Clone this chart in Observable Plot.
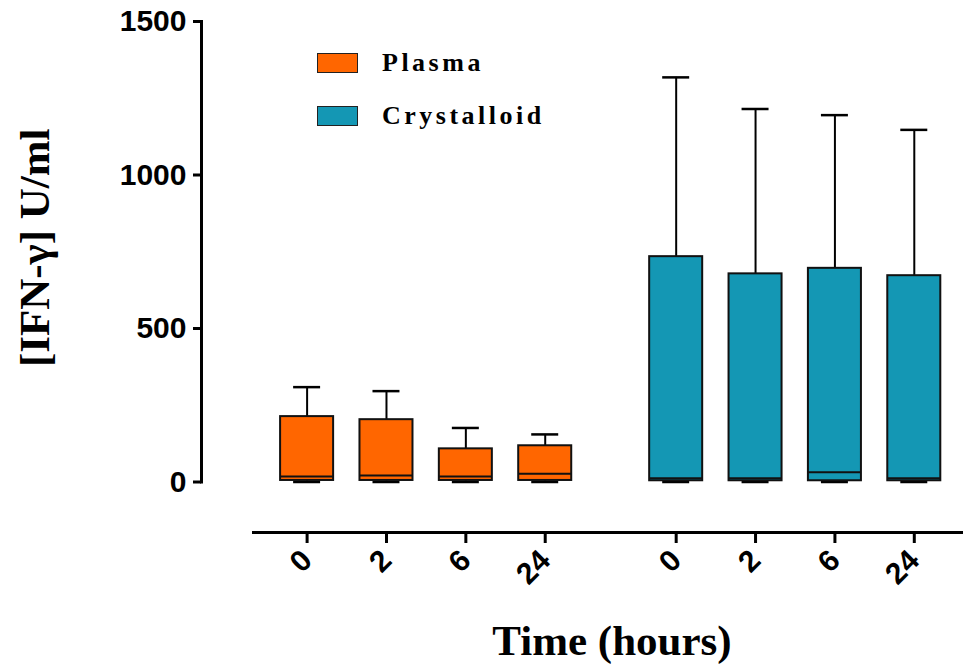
<!DOCTYPE html>
<html>
<head>
<meta charset="utf-8">
<script src="https://cdn.jsdelivr.net/npm/d3@7"></script>
<script src="https://cdn.jsdelivr.net/npm/@observablehq/plot@0.6"></script>
<style>
  html, body { margin: 0; padding: 0; background: #fff; }
  #wrap { position: relative; width: 963px; height: 669px; overflow: hidden; }
  #wrap svg { position: absolute; left: 0; top: 0; }
  .legend { position: absolute; left: 317px; top: 52px; font-family: "Liberation Serif", "Times New Roman", serif; font-weight: bold; font-size: 26px; letter-spacing: 3.5px; color: #000; }
  .legend .row { display: flex; align-items: center; height: 21px; margin-bottom: 32px; }
  .legend .sw { width: 39px; height: 18px; border: 1.5px solid #222; margin-right: 24px; }
</style>
</head>
<body>
<div id="wrap"></div>
<script>
// ---- data ----
const groups = ["Plasma", "Crystalloid"];
const groupColors = ["#FF6600", "#1497B4"];
const times = ["0", "2", "6", "24"];
const yTicks = [0, 500, 1000, 1500];

const plasmaMin    = [0, 0, 0, 0];
const plasmaQ1     = [5, 5, 5, 5];
const plasmaMedian = [18, 21, 18, 27];
const plasmaQ3     = [213, 203, 108, 118];
const plasmaMax    = [309, 296, 176, 155];

const crystMin    = [0, 0, 0, 0];
const crystQ1     = [4, 4, 4, 4];
const crystMedian = [12, 12, 32, 12];
const crystQ3     = [734, 678, 696, 672];
const crystMax    = [1318, 1215, 1195, 1147];

const xLabel = "Time (hours)";
const yLabel = "[IFN-\u03B3] U/ml";

// ---- layout constants ----
const groupOffset = 4.65;   // slot offset of second group (gap between groups)
const halfBox = 0.334;      // half box width in slot units
const halfCap = 0.17;       // half whisker-cap width in slot units
const xDomain = [-0.688, 8.27];

const stats = [
  [plasmaMin, plasmaQ1, plasmaMedian, plasmaQ3, plasmaMax],
  [crystMin, crystQ1, crystMedian, crystQ3, crystMax]
];
const rows = [];
groups.forEach((g, gi) => {
  times.forEach((t, ti) => {
    const [mn, q1, md, q3, mx] = stats[gi].map(a => a[ti]);
    rows.push({group: g, time: t, pos: ti + gi * groupOffset, min: mn, q1, median: md, q3, max: mx});
  });
});
const tickPos = rows.map(d => d.pos);
const tickLab = new Map(rows.map(d => [d.pos, d.time]));

const sansBold = {fontFamily: "Liberation Sans, Arial, sans-serif", fontWeight: "bold"};
const serifBold = "Liberation Serif, Times New Roman, serif";

const plot = Plot.plot({
  width: 963,
  height: 669,
  marginTop: 21,
  marginBottom: 187.5,
  marginLeft: 201,
  marginRight: 0,
  style: {fontFamily: "Liberation Sans, Arial, sans-serif", background: "transparent"},
  x: {type: "linear", domain: xDomain, range: [252, 963]},
  y: {domain: [0, 1500]},
  color: {domain: groups, range: groupColors},
  marks: [
    // y axis line
    Plot.frame({anchor: "left", strokeWidth: 3, stroke: "#000"}),
    Plot.axisY({ticks: yTicks, tickSize: 8, tickPadding: 7, strokeWidth: 3, fontSize: 30, ...sansBold, label: null, tickFormat: d => String(d)}),
    // x axis line (offset below the plot)
    Plot.ruleY([yTicks[0]], {x1: xDomain[0], x2: xDomain[1], dy: 50.5, strokeWidth: 3, stroke: "#000"}),
    Plot.axisX({ticks: tickPos, tickFormat: d => tickLab.get(d), tickSize: 11, tickPadding: 12, tickRotate: -45, dy: 50.5, strokeWidth: 3, fontSize: 30, ...sansBold, label: null}),
    // whiskers
    Plot.ruleX(rows, {x: "pos", y1: "q3", y2: "max", stroke: "#000", strokeWidth: 2}),
    Plot.ruleX(rows, {x: "pos", y1: "min", y2: "q1", stroke: "#000", strokeWidth: 2}),
    Plot.ruleY(rows, {y: "max", x1: d => d.pos - halfCap, x2: d => d.pos + halfCap, stroke: "#000", strokeWidth: 2.5}),
    Plot.ruleY(rows, {y: "min", x1: d => d.pos - halfCap, x2: d => d.pos + halfCap, stroke: "#000", strokeWidth: 2.5}),
    // boxes
    Plot.rect(rows, {x1: d => d.pos - halfBox, x2: d => d.pos + halfBox, y1: "q1", y2: "q3", fill: "group", stroke: "#111", strokeWidth: 2}),
    // medians
    Plot.ruleY(rows, {y: "median", x1: d => d.pos - halfBox, x2: d => d.pos + halfBox, stroke: "#111", strokeWidth: 2}),
    // axis titles
    Plot.text([xLabel], {x: (xDomain[0] + xDomain[1]) / 2, frameAnchor: "bottom", dx: 4, dy: 159.5, lineAnchor: "middle", fontSize: 43, fontFamily: serifBold, fontWeight: "bold", fill: "#000"}),
    Plot.text([yLabel], {frameAnchor: "left", textAnchor: "middle", rotate: -90, dx: -166, dy: -4, lineAnchor: "middle", fontSize: 43, fontFamily: serifBold, fontWeight: "bold", fill: "#000"})
  ]
});

const wrap = document.getElementById("wrap");
wrap.appendChild(plot);

// legend
const legend = document.createElement("div");
legend.className = "legend";
groups.forEach((g, i) => {
  const row = document.createElement("div");
  row.className = "row";
  const sw = document.createElement("span");
  sw.className = "sw";
  sw.style.background = groupColors[i];
  const tx = document.createElement("span");
  tx.textContent = g;
  row.appendChild(sw);
  row.appendChild(tx);
  legend.appendChild(row);
});
wrap.appendChild(legend);
</script>
</body>
</html>
